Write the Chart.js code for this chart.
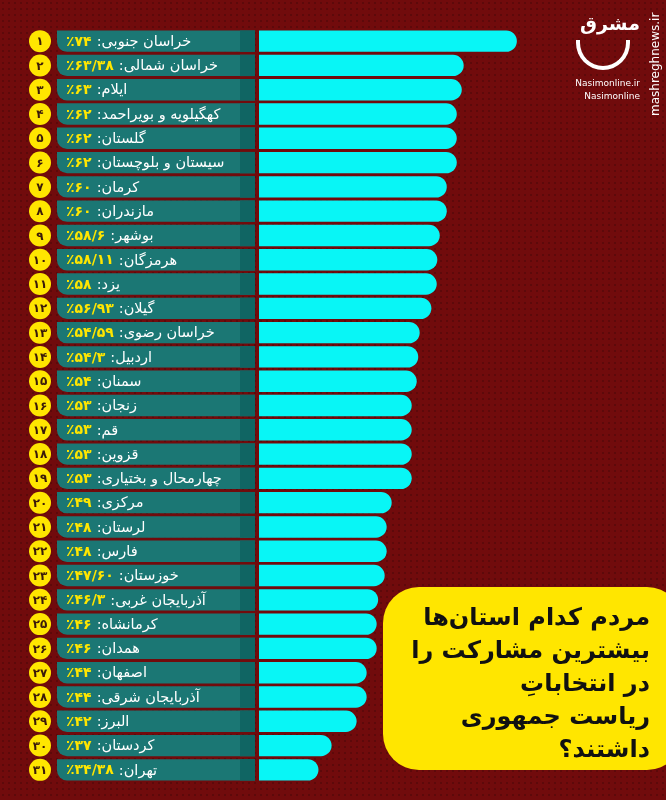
<!DOCTYPE html>
<html lang="fa">
<head>
<meta charset="utf-8">
<script src="https://cdn.jsdelivr.net/npm/chart.js@4.4.1/dist/chart.umd.min.js"></script>
<style>
  html, body { margin: 0; padding: 0; }
  body {
    width: 666px; height: 800px; overflow: hidden; position: relative;
    background-color: #710b0c;
    background-image: radial-gradient(rgba(0,0,0,0.18) 1px, transparent 1.5px);
    background-size: 6px 6px;
    font-family: "DejaVu Sans", sans-serif;
  }
  #wrap { position: absolute; left: 0; top: 0; width: 666px; height: 800px; }
  #title {
    position: absolute; left: 383px; top: 587px; width: 300px; height: 183px;
    background: #ffe600; border-radius: 36px;
    box-sizing: border-box; padding: 14px 33px 0 0;
    direction: rtl; text-align: right;
    font: bold 24px/33px "DejaVu Sans", sans-serif; color: #111;
  }
  #logo { position: absolute; left: 560px; top: 0; width: 106px; height: 140px; color: #fff; }
  #logo .mark { position: absolute; left: 20px; top: 12px; font: bold 19px "DejaVu Sans", sans-serif; direction: rtl; }
  #logo .cup {
    position: absolute; left: 16px; top: 40px; width: 46px; height: 26px;
    border: 4px solid #fff; border-top: none; border-radius: 0 0 28px 28px;
  }
  #logo .site { position: absolute; right: 26px; font: 9px "DejaVu Sans", sans-serif; text-align: right; white-space: nowrap; }
  #logo .vert {
    position: absolute; left: 88px; top: 116px; transform-origin: 0 0; transform: rotate(-90deg);
    font: 12px "DejaVu Sans", sans-serif; white-space: nowrap;
  }
</style>
</head>
<body>
<div id="wrap"><canvas id="chart" width="666" height="800"></canvas></div>
<div id="title">مردم کدام استان‌ها<br>بیشترین مشارکت را<br>در انتخاباتِ<br>ریاست جمهوری<br>داشتند؟</div>
<div id="logo">
  <div class="mark">مشرق</div>
  <div class="cup"></div>
  <div class="site" style="top:78px">Nasimonline.ir</div>
  <div class="site" style="top:91px">Nasimonline</div>
  <div class="vert">mashreghnews.ir</div>
</div>
<script>
const provinces = [
  "خراسان جنوبی", "خراسان شمالی", "ایلام", "کهگیلویه و بویراحمد", "گلستان",
  "سیستان و بلوچستان", "کرمان", "مازندران", "بوشهر", "هرمزگان", "یزد",
  "گیلان", "خراسان رضوی", "اردبیل", "سمنان", "زنجان", "قم", "قزوین",
  "چهارمحال و بختیاری", "مرکزی", "لرستان", "فارس", "خوزستان",
  "آذربایجان غربی", "کرمانشاه", "همدان", "اصفهان", "آذربایجان شرقی",
  "البرز", "کردستان", "تهران",
];
const turnout = [
  74, 63.38, 63, 62, 62, 62, 60, 60, 58.6, 58.11, 58, 56.93, 54.59, 54.3,
  54, 53, 53, 53, 53, 49, 48, 48, 47.6, 46.3, 46, 46, 44, 44, 42, 37, 34.38,
];
const turnoutLabels = [
  "٪۷۴", "٪۶۳/۳۸", "٪۶۳", "٪۶۲", "٪۶۲", "٪۶۲", "٪۶۰", "٪۶۰", "٪۵۸/۶",
  "٪۵۸/۱۱", "٪۵۸", "٪۵۶/۹۳", "٪۵۴/۵۹", "٪۵۴/۳", "٪۵۴", "٪۵۳", "٪۵۳",
  "٪۵۳", "٪۵۳", "٪۴۹", "٪۴۸", "٪۴۸", "٪۴۷/۶۰", "٪۴۶/۳", "٪۴۶", "٪۴۶",
  "٪۴۴", "٪۴۴", "٪۴۲", "٪۳۷", "٪۳۴/۳۸",
];
const axisMin = 22.5;
const axisMax = 90.6;

function faDigits(n) {
  return String(n).replace(/\d/g, (d) => "۰۱۲۳۴۵۶۷۸۹"[d]);
}

// label boxes, rank circles and texts drawn next to each bar
const rowLabels = {
  id: "rowLabels",
  beforeDatasetsDraw(chart) {
    const ctx = chart.ctx;
    const bars = chart.getDatasetMeta(0).data;
    bars.forEach((bar, i) => {
      const h = bar.height;
      const top = bar.y - h / 2;
      ctx.save();
      // teal box
      ctx.fillStyle = "#1b7774";
      ctx.beginPath();
      ctx.roundRect(57, top, 198, h, [0, 0, 0, 10]);
      ctx.fill();
      ctx.fillStyle = "#106563";
      ctx.fillRect(240, top, 15, h);
      // rank circle
      ctx.fillStyle = "#ffe600";
      ctx.beginPath();
      ctx.arc(40, bar.y, 11, 0, Math.PI * 2);
      ctx.fill();
      ctx.fillStyle = "#3a1a0a";
      ctx.font = "bold 12px 'DejaVu Sans'";
      ctx.textAlign = "center";
      ctx.textBaseline = "middle";
      ctx.fillText(faDigits(i + 1), 40, bar.y + 1);
      // value then name
      ctx.direction = "ltr";
      ctx.textAlign = "left";
      ctx.font = "bold 14px 'DejaVu Sans'";
      ctx.fillStyle = "#ffe600";
      ctx.fillText(turnoutLabels[i], 66, bar.y + 1);
      const w = ctx.measureText(turnoutLabels[i]).width;
      ctx.direction = "rtl";
      ctx.font = "14.5px 'DejaVu Sans'";
      ctx.fillStyle = "#ffffff";
      ctx.fillText(provinces[i] + ":", 66 + w + 5, bar.y + 1);
      ctx.restore();
    });
  },
};

new Chart(document.getElementById("chart"), {
  type: "bar",
  data: {
    labels: provinces,
    datasets: [
      {
        data: turnout,
        backgroundColor: "#08f6f6",
        borderRadius: 11,
        borderSkipped: "start",
        barPercentage: 1,
        categoryPercentage: 0.88,
      },
    ],
  },
  options: {
    indexAxis: "y",
    responsive: false,
    animation: false,
    layout: { padding: { left: 259, right: 66, top: 29, bottom: 18 } },
    plugins: { legend: { display: false }, tooltip: { enabled: false } },
    scales: {
      x: { display: false, min: axisMin, max: axisMax },
      y: { display: false },
    },
  },
  plugins: [rowLabels],
});
</script>
</body>
</html>
